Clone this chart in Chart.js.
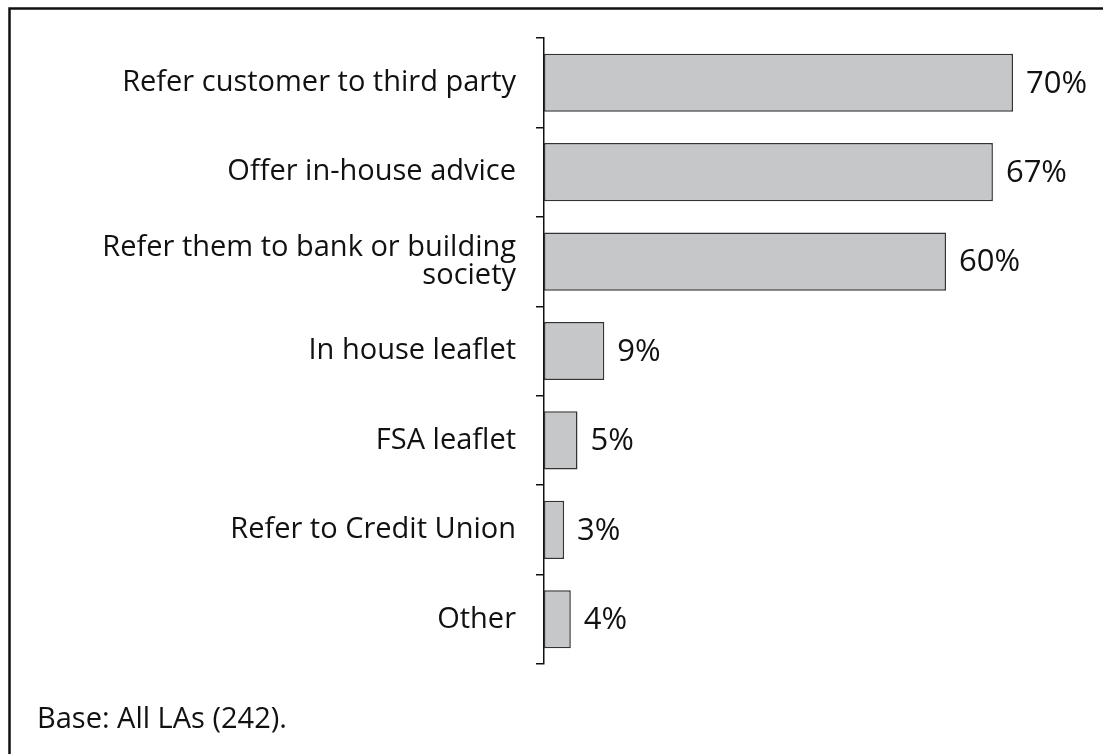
<!DOCTYPE html>
<html>
<head>
<meta charset="utf-8">
<title>Advice offered</title>
<script src="https://cdn.jsdelivr.net/npm/chart.js@4/dist/chart.umd.min.js"></script>
<style>
  html, body { margin: 0; padding: 0; background: #fff; }
  #wrap { position: relative; width: 1103px; height: 754px; }
</style>
</head>
<body>
<div id="wrap"><canvas id="chart"></canvas></div>
<script>
// categories and values (percent of LAs)
const categories = [
  'Refer customer to third party',
  'Offer in-house advice',
  ['Refer them to bank or building', 'society'],
  'In house leaflet',
  'FSA leaflet',
  'Refer to Credit Union',
  'Other'
];
const values = [70, 67, 60, 9, 5, 3, 4];
const valueLabels = ['70%', '67%', '60%', '9%', '5%', '3%', '4%'];
const footnote = 'Base: All LAs (242).';

const FONT = '"Open Sans", "Noto Sans", sans-serif';

// border round the figure (top and left edges only show)
const framePlugin = {
  id: 'frame',
  beforeDraw(chart) {
    const ctx = chart.ctx;
    ctx.save();
    ctx.strokeStyle = '#111';
    ctx.lineWidth = 2.5;
    ctx.beginPath();
    ctx.moveTo(9.5, chart.height + 5);
    ctx.lineTo(9.5, 8.5);
    ctx.lineTo(chart.width + 5, 8.5);
    ctx.stroke();
    ctx.restore();
  },
  afterDraw(chart) {
    const ctx = chart.ctx;
    ctx.save();
    ctx.fillStyle = '#111';
    ctx.font = '29px ' + FONT;
    ctx.textBaseline = 'alphabetic';
    ctx.fillText(footnote, 37, 728);
    ctx.restore();
  }
};

// percent labels at the end of each bar
const valueLabelPlugin = {
  id: 'valueLabels',
  afterDatasetsDraw(chart) {
    const ctx = chart.ctx;
    const meta = chart.getDatasetMeta(0);
    ctx.save();
    ctx.fillStyle = '#111';
    ctx.font = '31px ' + FONT;
    ctx.textBaseline = 'middle';
    ctx.textAlign = 'left';
    meta.data.forEach((bar, i) => {
      ctx.fillText(valueLabels[i], bar.x + 13, bar.y + 1);
    });
    ctx.restore();
  }
};

new Chart(document.getElementById('chart'), {
  type: 'bar',
  data: {
    labels: categories,
    datasets: [{
      data: values,
      backgroundColor: '#c6c7c9',
      borderColor: '#333',
      borderWidth: 1.5,
      borderSkipped: false,
      barPercentage: 0.65,
      categoryPercentage: 1
    }]
  },
  options: {
    indexAxis: 'y',
    responsive: true,
    maintainAspectRatio: false,
    animation: false,
    layout: { padding: { top: 38, bottom: 90, right: 23, left: 0 } },
    plugins: {
      legend: { display: false },
      tooltip: { enabled: false }
    },
    scales: {
      x: { display: false, min: 0, max: 80 },
      y: {
        afterFit(scale) { scale.width = 544; },
        border: { display: true, color: '#111', width: 1.5 },
        grid: {
          offset: true,
          drawOnChartArea: false,
          drawTicks: true,
          tickLength: 8,
          color: '#111',
          lineWidth: 1.5
        },
        ticks: {
          color: '#111',
          padding: 20,
          font: { family: FONT, size: 29, lineHeight: 0.97 }
        }
      }
    }
  },
  plugins: [framePlugin, valueLabelPlugin]
});
</script>
</body>
</html>
